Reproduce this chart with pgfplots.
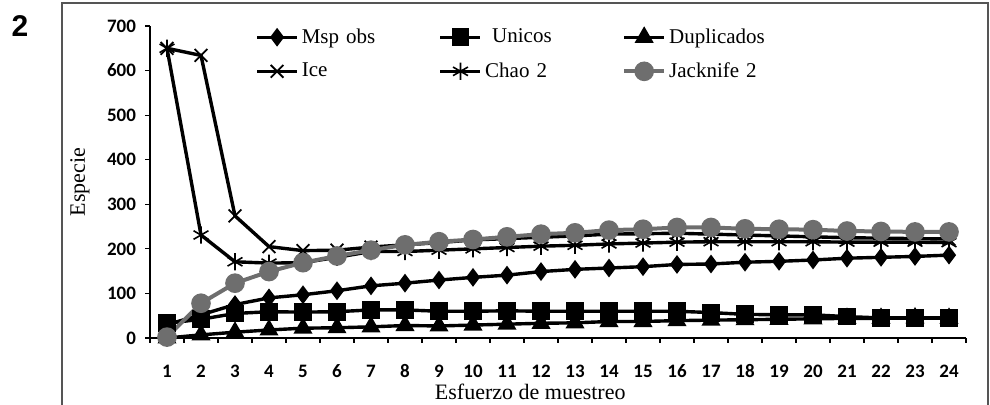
\documentclass[border=0pt]{standalone}
\usepackage{fontspec}
\setmainfont{Liberation Serif}
\newfontfamily\tickfont{Carlito}
\newfontfamily\panelfont{Liberation Sans}
\usepackage{pgfplots}
\usepackage{pgfplotstable}
\pgfplotsset{compat=1.18}

\definecolor{jackgray}{RGB}{110,110,110}
\definecolor{framegray}{RGB}{85,85,85}

% n = sampling effort
\pgfplotstableread{
n  msp uni dup ice chao jack
1   30  33   0 650 650   2
2   52  42   7 634 231  78
3   75  55  13 274 171 123
4   90  59  18 205 168 149
5   97  58  22 196 169 169
6  106  59  23 197 181 184
7  117  63  25 204 194 197
8  123  63  28 209 194 209
9  130  60  27 214 197 216
10 136  60  29 220 200 221
11 141  61  31 223 203 227
12 149  60  33 226 206 233
13 154  60  34 229 208 236
14 157  60  37 233 211 242
15 160  60  37 234 213 244
16 165  60  39 235 215 248
17 166  57  40 233 216 248
18 170  53  41 231 216 245
19 172  52  42 229 216 244
20 175  52  43 227 216 243
21 179  48  44 225 215 240
22 181  45  44 224 215 239
23 183  45  45 223 215 238
24 186  45  44 222 214 238
}\datatab

\begin{document}
\begin{tikzpicture}
  \useasboundingbox (0,0) rectangle (495pt,202.5pt);
  \clip (0,0) rectangle (495pt,202.5pt);
  % chart area frame (bottom edge is cut off in the source)
  \draw[framegray, line width=0.8pt] (31pt,-5pt) |- (494pt,201pt) -- (494pt,-5pt);
  \node[font=\panelfont\bfseries\fontsize{15}{15}\selectfont] at (10pt,189.5pt) {2};

  \begin{axis}[
      at={(75pt,33.5pt)}, anchor=south west,
      scale only axis, width=408pt, height=156pt,
      xmin=0.5, xmax=24.5, ymin=0, ymax=700,
      axis x line*=bottom, axis y line*=left,
      axis line style={-, line width=0.6pt},
      xtick={1,...,24}, minor xtick={0.5,1.5,...,24.5},
      ytick={0,100,...,700},
      tick align=outside, major tick length=2.5pt, minor tick length=2.5pt,
      major x tick style={draw=none},
      tick style={black, line width=0.6pt},
      tick label style={font=\tickfont\bfseries\fontsize{9.5}{10}\selectfont},
      /pgf/number format/assume math mode=true,
      xticklabel style={text height=6pt, text depth=0pt, yshift=-7.5pt},
      yticklabel style={xshift=-1pt},
      xlabel={Esfuerzo de muestreo},
      ylabel={Especie},
      label style={font=\fontsize{11}{13}\selectfont},
      xlabel style={at={(axis description cs:0.466,0)}, anchor=center, yshift=-27pt},
      ylabel style={at={(axis description cs:-0.0858,0.5)}, anchor=center},
      legend columns=3,
      legend cell align=left,
      legend style={at={(axis description cs:0.1213,1.019)}, anchor=north west,
        draw=none, fill=none, font=\fontsize{10.5}{12}\selectfont,
        row sep=4.2pt,
        nodes={inner xsep=1.5pt, text width=67pt, align=left},
        /tikz/every even column/.append style={column sep=0pt}},
      legend image code/.code={\draw[mark repeat=2,mark phase=2]
        plot coordinates {(0pt,0pt) (10pt,0pt) (20pt,0pt)};},
      every axis plot/.append style={line width=1.7pt},
    ]
    \addplot[black, mark=diamond*, mark size=3.3pt] table[x=n, y=msp] {\datatab};
    \addplot[black, mark=square*, mark size=3.6pt] table[x=n, y=uni] {\datatab};
    \addplot[black, mark=triangle*, mark size=3.8pt] table[x=n, y=dup] {\datatab};
    \addplot[black, mark=x, mark size=4.5pt, mark options={line width=0.9pt}] table[x=n, y=ice] {\datatab};
    \addplot[black, mark=asterisk, mark size=4.3pt, mark options={line width=0.8pt}] table[x=n, y=chao] {\datatab};
    \addplot[jackgray, line width=2pt, mark=*, mark size=3.9pt] table[x=n, y=jack] {\datatab};
    \legend{Msp obs, {\ Unicos}, Duplicados, Ice, Chao 2, Jacknife 2}
  \end{axis}
\end{tikzpicture}
\end{document}
